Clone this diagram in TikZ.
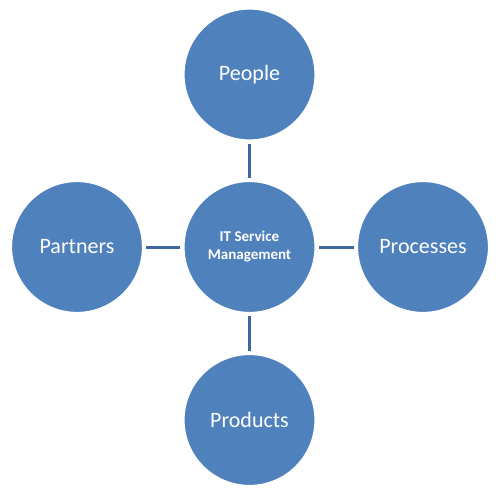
\documentclass[tikz,border=0pt]{standalone}
\usepackage{fontspec}
\setmainfont{Carlito}
\definecolor{cfill}{HTML}{4F81BD}
\definecolor{cline}{HTML}{3D679E}
\begin{document}
\begin{tikzpicture}[x=1pt,y=-1pt,
  bub/.style={circle,fill=cfill,draw=white,line width=1.2pt,minimum size=131pt,inner sep=0pt,text=white,font=\fontsize{22}{26}\selectfont},
  hub/.style={bub,font=\bfseries\fontsize{15}{18}\selectfont,align=center},
  link/.style={draw=cline,line width=3pt,shorten >=3pt,shorten <=3pt}]
\useasboundingbox (0,0) rectangle (500,489);
\node[hub] (c) at (249.5,247) {IT Service\\Management};
\node[bub] (t) at (249.5,74.5) {People};
\node[bub] (l) at (77,247) {Partners};
\node[bub] (r) at (423,247) {Processes};
\node[bub] (b) at (249.5,420) {Products};
\draw[link] (c) -- (t);
\draw[link] (c) -- (l);
\draw[link] (c) -- (r);
\draw[link] (c) -- (b);
\end{tikzpicture}
\end{document}
